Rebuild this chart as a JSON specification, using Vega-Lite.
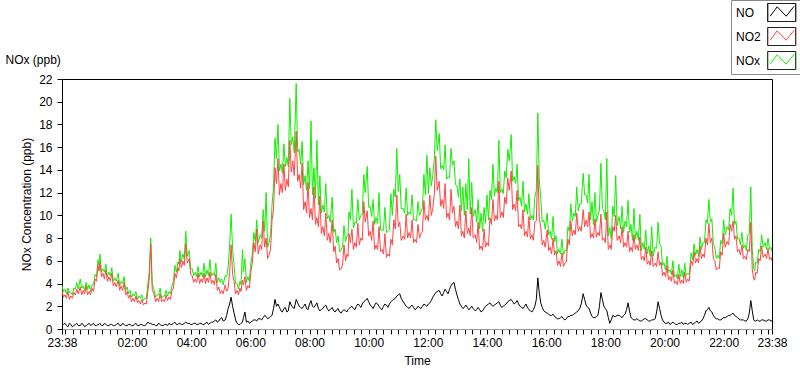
{
"$schema": "https://vega.github.io/schema/vega-lite/v6.json",
"width": 710,
"height": 250,
"autosize": "none",
"padding": {"left": 62, "top": 79, "right": 28, "bottom": 40},
"background": "white",
"datasets": {
"d": [
{"min":1418,"NO2":3.4,"NO":0.3,"NOx":3.8},{"min":1424,"NO2":3.0,"NO":0.5,"NOx":3.5},{"min":1430,"NO2":3.3,"NO":0.2,"NOx":3.6},{"min":1436,"NO2":2.9,"NO":0.4,"NOx":3.2},{"min":1442,"NO2":3.2,"NO":0.3,"NOx":3.6},{"min":1448,"NO2":3.5,"NO":0.5,"NOx":4.1},{"min":1455,"NO2":3.7,"NO":0.3,"NOx":4.4},{"min":1461,"NO2":3.4,"NO":0.4,"NOx":3.8},{"min":1467,"NO2":3.8,"NO":0.3,"NOx":4.1},{"min":1473,"NO2":3.3,"NO":0.5,"NOx":3.9},{"min":1479,"NO2":3.6,"NO":0.4,"NOx":3.9},{"min":1485,"NO2":4.4,"NO":0.3,"NOx":4.8},{"min":1491,"NO2":5.6,"NO":0.4,"NOx":6.1},{"min":1495,"NO2":5.9,"NO":0.5,"NOx":6.6},{"min":1501,"NO2":4.9,"NO":0.3,"NOx":5.3},{"min":1507,"NO2":5.2,"NO":0.4,"NOx":5.7},{"min":1513,"NO2":4.6,"NO":0.3,"NOx":5.0},{"min":1519,"NO2":4.9,"NO":0.4,"NOx":5.4},{"min":1525,"NO2":4.1,"NO":0.3,"NOx":4.5},{"min":1532,"NO2":4.3,"NO":0.5,"NOx":4.9},{"min":1538,"NO2":3.8,"NO":0.3,"NOx":4.2},{"min":1544,"NO2":4.1,"NO":0.4,"NOx":4.6},{"min":1550,"NO2":3.3,"NO":0.3,"NOx":3.7},{"min":1556,"NO2":3.0,"NO":0.4,"NOx":3.4},{"min":1562,"NO2":2.7,"NO":0.3,"NOx":3.1},{"min":1568,"NO2":2.9,"NO":0.5,"NOx":3.3},{"min":1574,"NO2":2.5,"NO":0.3,"NOx":2.9},{"min":1580,"NO2":2.6,"NO":0.4,"NOx":3.0},{"min":1586,"NO2":2.3,"NO":0.3,"NOx":2.7},{"min":1592,"NO2":3.2,"NO":0.6,"NOx":3.9},{"min":1598,"NO2":7.5,"NO":0.5,"NOx":8.0},{"min":1605,"NO2":3.0,"NO":0.4,"NOx":3.4},{"min":1611,"NO2":2.7,"NO":0.3,"NOx":3.0},{"min":1617,"NO2":3.1,"NO":0.4,"NOx":3.6},{"min":1623,"NO2":2.6,"NO":0.3,"NOx":2.9},{"min":1629,"NO2":3.0,"NO":0.4,"NOx":3.4},{"min":1635,"NO2":2.8,"NO":0.5,"NOx":3.3},{"min":1641,"NO2":3.4,"NO":0.4,"NOx":3.8},{"min":1647,"NO2":4.9,"NO":0.6,"NOx":5.6},{"min":1653,"NO2":5.4,"NO":0.4,"NOx":5.9},{"min":1657,"NO2":6.2,"NO":0.5,"NOx":6.9},{"min":1663,"NO2":6.0,"NO":0.4,"NOx":6.6},{"min":1669,"NO2":7.5,"NO":0.6,"NOx":8.6},{"min":1676,"NO2":6.2,"NO":0.5,"NOx":6.9},{"min":1682,"NO2":4.7,"NO":0.4,"NOx":5.3},{"min":1688,"NO2":4.4,"NO":0.5,"NOx":5.0},{"min":1694,"NO2":4.9,"NO":0.4,"NOx":5.5},{"min":1700,"NO2":4.4,"NO":0.5,"NOx":5.0},{"min":1706,"NO2":4.9,"NO":0.4,"NOx":5.8},{"min":1712,"NO2":4.5,"NO":0.6,"NOx":5.2},{"min":1718,"NO2":5.0,"NO":0.5,"NOx":6.1},{"min":1724,"NO2":4.3,"NO":0.6,"NOx":4.9},{"min":1730,"NO2":4.8,"NO":0.8,"NOx":5.8},{"min":1736,"NO2":3.7,"NO":0.7,"NOx":4.5},{"min":1742,"NO2":3.4,"NO":1.0,"NOx":4.4},{"min":1749,"NO2":3.9,"NO":0.8,"NOx":4.7},{"min":1755,"NO2":3.6,"NO":1.8,"NOx":5.5},{"min":1761,"NO2":7.4,"NO":2.8,"NOx":10.1},{"min":1767,"NO2":4.2,"NO":1.4,"NOx":5.6},{"min":1773,"NO2":3.4,"NO":0.5,"NOx":4.0},{"min":1779,"NO2":3.6,"NO":0.4,"NOx":4.2},{"min":1784,"NO2":4.3,"NO":0.6,"NOx":7.0},{"min":1789,"NO2":4.6,"NO":1.5,"NOx":6.2},{"min":1795,"NO2":3.8,"NO":0.7,"NOx":4.6},{"min":1801,"NO2":5.0,"NO":0.6,"NOx":5.8},{"min":1807,"NO2":7.6,"NO":0.8,"NOx":8.5},{"min":1813,"NO2":8.8,"NO":0.7,"NOx":9.6},{"min":1820,"NO2":7.4,"NO":0.9,"NOx":8.3},{"min":1826,"NO2":9.5,"NO":1.0,"NOx":10.5},{"min":1832,"NO2":8.0,"NO":1.1,"NOx":12.0},{"min":1838,"NO2":6.5,"NO":1.0,"NOx":7.6},{"min":1844,"NO2":9.6,"NO":1.2,"NOx":10.9},{"min":1850,"NO2":14.2,"NO":2.6,"NOx":16.8},{"min":1856,"NO2":15.0,"NO":2.2,"NOx":18.0},{"min":1862,"NO2":12.8,"NO":1.6,"NOx":14.5},{"min":1868,"NO2":14.5,"NO":1.8,"NOx":16.3},{"min":1874,"NO2":13.2,"NO":1.5,"NOx":15.1},{"min":1880,"NO2":16.6,"NO":2.4,"NOx":20.3},{"min":1886,"NO2":14.8,"NO":1.9,"NOx":16.9},{"min":1893,"NO2":17.4,"NO":2.6,"NOx":21.6},{"min":1899,"NO2":13.6,"NO":2.0,"NOx":15.8},{"min":1905,"NO2":14.6,"NO":1.8,"NOx":16.5},{"min":1911,"NO2":11.2,"NO":2.2,"NOx":13.5},{"min":1917,"NO2":12.9,"NO":1.7,"NOx":14.8},{"min":1923,"NO2":10.6,"NO":2.5,"NOx":18.3},{"min":1929,"NO2":12.5,"NO":1.9,"NOx":14.2},{"min":1935,"NO2":9.8,"NO":2.3,"NOx":16.6},{"min":1941,"NO2":11.7,"NO":1.6,"NOx":13.5},{"min":1947,"NO2":9.0,"NO":1.8,"NOx":10.9},{"min":1953,"NO2":10.2,"NO":2.1,"NOx":12.8},{"min":1959,"NO2":8.4,"NO":1.6,"NOx":10.0},{"min":1966,"NO2":9.6,"NO":1.9,"NOx":11.6},{"min":1972,"NO2":7.3,"NO":1.5,"NOx":8.8},{"min":1978,"NO2":6.2,"NO":1.8,"NOx":8.2},{"min":1984,"NO2":5.3,"NO":1.4,"NOx":6.9},{"min":1990,"NO2":7.4,"NO":1.7,"NOx":9.1},{"min":1996,"NO2":6.6,"NO":1.5,"NOx":8.2},{"min":2000,"NO2":8.4,"NO":1.8,"NOx":10.3},{"min":2006,"NO2":8.8,"NO":2.0,"NOx":12.3},{"min":2012,"NO2":7.6,"NO":1.7,"NOx":9.4},{"min":2018,"NO2":9.3,"NO":2.2,"NOx":11.4},{"min":2024,"NO2":8.0,"NO":1.9,"NOx":10.0},{"min":2030,"NO2":11.2,"NO":2.4,"NOx":13.6},{"min":2037,"NO2":10.4,"NO":2.7,"NOx":14.3},{"min":2043,"NO2":8.6,"NO":2.1,"NOx":10.8},{"min":2049,"NO2":9.5,"NO":1.8,"NOx":11.4},{"min":2055,"NO2":7.4,"NO":2.3,"NOx":9.8},{"min":2061,"NO2":9.0,"NO":2.0,"NOx":12.0},{"min":2067,"NO2":7.0,"NO":1.7,"NOx":8.7},{"min":2073,"NO2":8.4,"NO":2.2,"NOx":10.7},{"min":2079,"NO2":6.6,"NO":1.9,"NOx":8.6},{"min":2085,"NO2":7.9,"NO":2.4,"NOx":11.9},{"min":2091,"NO2":9.6,"NO":2.6,"NOx":12.3},{"min":2097,"NO2":11.8,"NO":2.9,"NOx":15.9},{"min":2103,"NO2":9.4,"NO":3.1,"NOx":13.6},{"min":2110,"NO2":8.2,"NO":2.4,"NOx":10.6},{"min":2116,"NO2":10.1,"NO":2.0,"NOx":12.4},{"min":2122,"NO2":8.5,"NO":1.8,"NOx":10.3},{"min":2128,"NO2":9.6,"NO":2.1,"NOx":11.8},{"min":2134,"NO2":7.9,"NO":1.7,"NOx":9.6},{"min":2140,"NO2":9.2,"NO":2.0,"NOx":11.2},{"min":2146,"NO2":8.4,"NO":1.8,"NOx":10.3},{"min":2152,"NO2":11.3,"NO":2.2,"NOx":13.6},{"min":2158,"NO2":10.0,"NO":2.0,"NOx":15.3},{"min":2164,"NO2":11.8,"NO":2.3,"NOx":14.2},{"min":2170,"NO2":10.6,"NO":2.8,"NOx":13.5},{"min":2176,"NO2":15.2,"NO":3.2,"NOx":18.4},{"min":2183,"NO2":13.0,"NO":3.4,"NOx":17.2},{"min":2189,"NO2":11.4,"NO":2.9,"NOx":14.4},{"min":2195,"NO2":12.8,"NO":3.5,"NOx":16.2},{"min":2201,"NO2":10.2,"NO":3.1,"NOx":13.4},{"min":2207,"NO2":12.3,"NO":3.8,"NOx":15.9},{"min":2213,"NO2":10.8,"NO":4.1,"NOx":14.8},{"min":2219,"NO2":9.5,"NO":3.0,"NOx":12.6},{"min":2225,"NO2":10.9,"NO":2.2,"NOx":13.2},{"min":2231,"NO2":8.6,"NO":1.8,"NOx":12.5},{"min":2237,"NO2":10.4,"NO":2.1,"NOx":12.8},{"min":2243,"NO2":8.9,"NO":1.7,"NOx":15.0},{"min":2249,"NO2":10.7,"NO":2.0,"NOx":12.9},{"min":2256,"NO2":8.3,"NO":1.6,"NOx":10.5},{"min":2262,"NO2":9.4,"NO":1.9,"NOx":11.4},{"min":2268,"NO2":7.3,"NO":1.5,"NOx":10.2},{"min":2274,"NO2":8.8,"NO":1.8,"NOx":10.7},{"min":2280,"NO2":7.6,"NO":2.1,"NOx":11.8},{"min":2286,"NO2":9.8,"NO":2.3,"NOx":12.2},{"min":2292,"NO2":11.4,"NO":2.0,"NOx":14.5},{"min":2298,"NO2":10.0,"NO":2.2,"NOx":12.4},{"min":2304,"NO2":13.0,"NO":2.4,"NOx":16.6},{"min":2310,"NO2":10.3,"NO":1.9,"NOx":12.3},{"min":2316,"NO2":11.6,"NO":2.1,"NOx":13.9},{"min":2322,"NO2":13.3,"NO":2.4,"NOx":15.8},{"min":2329,"NO2":13.9,"NO":2.6,"NOx":17.1},{"min":2335,"NO2":11.0,"NO":2.2,"NOx":13.4},{"min":2341,"NO2":12.2,"NO":2.5,"NOx":14.5},{"min":2347,"NO2":9.2,"NO":2.0,"NOx":11.6},{"min":2353,"NO2":10.5,"NO":1.8,"NOx":13.0},{"min":2359,"NO2":8.6,"NO":2.2,"NOx":11.0},{"min":2365,"NO2":9.9,"NO":1.7,"NOx":11.9},{"min":2371,"NO2":8.3,"NO":1.5,"NOx":10.0},{"min":2377,"NO2":9.4,"NO":2.0,"NOx":11.6},{"min":2383,"NO2":14.4,"NO":4.5,"NOx":19.0},{"min":2389,"NO2":8.9,"NO":2.3,"NOx":11.5},{"min":2395,"NO2":7.8,"NO":1.6,"NOx":9.6},{"min":2402,"NO2":8.7,"NO":1.4,"NOx":10.2},{"min":2408,"NO2":7.2,"NO":1.2,"NOx":8.6},{"min":2414,"NO2":8.0,"NO":1.3,"NOx":9.9},{"min":2420,"NO2":6.9,"NO":1.0,"NOx":8.2},{"min":2426,"NO2":6.0,"NO":0.9,"NOx":7.0},{"min":2432,"NO2":6.7,"NO":1.1,"NOx":7.9},{"min":2438,"NO2":5.8,"NO":0.8,"NOx":6.9},{"min":2444,"NO2":7.9,"NO":1.1,"NOx":9.0},{"min":2450,"NO2":9.5,"NO":1.2,"NOx":11.0},{"min":2456,"NO2":8.7,"NO":1.3,"NOx":10.2},{"min":2462,"NO2":10.2,"NO":1.5,"NOx":12.5},{"min":2468,"NO2":9.0,"NO":1.8,"NOx":11.0},{"min":2475,"NO2":10.5,"NO":3.1,"NOx":13.7},{"min":2481,"NO2":9.6,"NO":2.1,"NOx":11.8},{"min":2487,"NO2":10.3,"NO":1.8,"NOx":13.6},{"min":2493,"NO2":8.4,"NO":1.1,"NOx":11.2},{"min":2499,"NO2":9.7,"NO":1.0,"NOx":12.0},{"min":2505,"NO2":8.5,"NO":1.2,"NOx":10.0},{"min":2511,"NO2":10.1,"NO":3.2,"NOx":14.6},{"min":2517,"NO2":8.0,"NO":2.0,"NOx":10.4},{"min":2523,"NO2":10.3,"NO":1.6,"NOx":15.0},{"min":2529,"NO2":7.4,"NO":0.5,"NOx":8.9},{"min":2535,"NO2":9.0,"NO":1.2,"NOx":10.8},{"min":2541,"NO2":10.0,"NO":1.1,"NOx":13.5},{"min":2548,"NO2":8.2,"NO":1.2,"NOx":9.9},{"min":2554,"NO2":9.0,"NO":1.0,"NOx":10.8},{"min":2560,"NO2":7.6,"NO":1.3,"NOx":9.5},{"min":2566,"NO2":8.6,"NO":2.3,"NOx":11.3},{"min":2572,"NO2":7.2,"NO":1.0,"NOx":9.2},{"min":2578,"NO2":8.3,"NO":0.8,"NOx":10.6},{"min":2584,"NO2":7.4,"NO":0.9,"NOx":8.6},{"min":2590,"NO2":8.1,"NO":0.7,"NOx":10.1},{"min":2596,"NO2":6.4,"NO":0.8,"NOx":7.6},{"min":2602,"NO2":7.2,"NO":0.9,"NOx":8.7},{"min":2608,"NO2":6.0,"NO":0.7,"NOx":7.3},{"min":2614,"NO2":6.9,"NO":0.8,"NOx":9.0},{"min":2621,"NO2":5.8,"NO":0.9,"NOx":7.2},{"min":2627,"NO2":6.8,"NO":2.4,"NOx":9.4},{"min":2633,"NO2":5.9,"NO":1.2,"NOx":7.3},{"min":2639,"NO2":5.0,"NO":0.6,"NOx":5.8},{"min":2645,"NO2":5.6,"NO":0.5,"NOx":6.4},{"min":2651,"NO2":4.6,"NO":0.4,"NOx":5.2},{"min":2657,"NO2":5.2,"NO":0.6,"NOx":6.0},{"min":2663,"NO2":4.2,"NO":0.4,"NOx":4.8},{"min":2669,"NO2":4.8,"NO":0.5,"NOx":5.7},{"min":2675,"NO2":4.3,"NO":0.6,"NOx":5.2},{"min":2681,"NO2":5.0,"NO":0.5,"NOx":5.8},{"min":2687,"NO2":4.4,"NO":0.4,"NOx":4.9},{"min":2694,"NO2":6.0,"NO":0.6,"NOx":6.7},{"min":2700,"NO2":6.8,"NO":0.5,"NOx":7.5},{"min":2706,"NO2":6.2,"NO":0.7,"NOx":7.0},{"min":2712,"NO2":7.3,"NO":0.6,"NOx":8.1},{"min":2718,"NO2":6.6,"NO":0.9,"NOx":7.6},{"min":2724,"NO2":8.0,"NO":1.6,"NOx":9.6},{"min":2730,"NO2":9.3,"NO":1.9,"NOx":11.4},{"min":2736,"NO2":8.0,"NO":1.5,"NOx":9.7},{"min":2742,"NO2":6.0,"NO":1.0,"NOx":7.2},{"min":2748,"NO2":5.4,"NO":0.9,"NOx":6.5},{"min":2754,"NO2":6.8,"NO":0.8,"NOx":7.8},{"min":2760,"NO2":8.4,"NO":1.0,"NOx":9.6},{"min":2767,"NO2":7.7,"NO":1.1,"NOx":9.0},{"min":2773,"NO2":9.2,"NO":1.2,"NOx":10.6},{"min":2779,"NO2":9.5,"NO":1.4,"NOx":12.4},{"min":2785,"NO2":8.2,"NO":1.1,"NOx":9.5},{"min":2791,"NO2":7.0,"NO":0.9,"NOx":8.0},{"min":2797,"NO2":7.4,"NO":0.8,"NOx":8.5},{"min":2803,"NO2":6.4,"NO":0.7,"NOx":7.4},{"min":2809,"NO2":7.0,"NO":0.9,"NOx":8.3},{"min":2815,"NO2":9.4,"NO":2.5,"NOx":12.5},{"min":2821,"NO2":4.4,"NO":0.8,"NOx":5.3},{"min":2825,"NO2":5.0,"NO":0.7,"NOx":5.9},{"min":2831,"NO2":6.2,"NO":0.7,"NOx":7.0},{"min":2837,"NO2":7.3,"NO":0.8,"NOx":8.3},{"min":2844,"NO2":6.6,"NO":0.7,"NOx":7.6},{"min":2850,"NO2":7.1,"NO":0.8,"NOx":8.0},{"min":2856,"NO2":6.3,"NO":0.7,"NOx":7.2},{"min":2858,"NO2":6.0,"NO":0.7,"NOx":6.8},
{"min":1421,"NO2":2.8,"NO":0.4,"NOx":3.3},{"min":1427,"NO2":2.7,"NO":0.3,"NOx":3.1},{"min":1433,"NO2":2.6,"NO":0.5,"NOx":3.2},{"min":1439,"NO2":2.7,"NO":0.2,"NOx":3.0},{"min":1445,"NO2":3.0,"NO":0.4,"NOx":3.5},{"min":1451,"NO2":3.1,"NO":0.3,"NOx":3.5},{"min":1458,"NO2":3.0,"NO":0.5,"NOx":3.6},{"min":1464,"NO2":3.1,"NO":0.2,"NOx":3.4},{"min":1470,"NO2":3.0,"NO":0.4,"NOx":3.5},{"min":1476,"NO2":3.0,"NO":0.3,"NOx":3.3},{"min":1482,"NO2":3.3,"NO":0.5,"NOx":3.9},{"min":1488,"NO2":4.2,"NO":0.3,"NOx":4.6},{"min":1493,"NO2":5.1,"NO":0.4,"NOx":5.6},{"min":1498,"NO2":4.6,"NO":0.3,"NOx":5.0},{"min":1504,"NO2":4.4,"NO":0.5,"NOx":5.0},{"min":1510,"NO2":4.2,"NO":0.3,"NOx":4.6},{"min":1516,"NO2":4.2,"NO":0.4,"NOx":4.7},{"min":1522,"NO2":3.8,"NO":0.3,"NOx":4.2},{"min":1528,"NO2":3.7,"NO":0.4,"NOx":4.2},{"min":1535,"NO2":3.4,"NO":0.3,"NOx":3.8},{"min":1541,"NO2":3.4,"NO":0.5,"NOx":4.0},{"min":1547,"NO2":3.0,"NO":0.3,"NOx":3.4},{"min":1553,"NO2":2.7,"NO":0.4,"NOx":3.1},{"min":1559,"NO2":2.4,"NO":0.3,"NOx":2.8},{"min":1565,"NO2":2.4,"NO":0.4,"NOx":2.9},{"min":1571,"NO2":2.3,"NO":0.3,"NOx":2.6},{"min":1577,"NO2":2.2,"NO":0.4,"NOx":2.7},{"min":1583,"NO2":2.1,"NO":0.3,"NOx":2.5},{"min":1589,"NO2":2.2,"NO":0.4,"NOx":2.7},{"min":1595,"NO2":4.5,"NO":0.5,"NOx":5.0},{"min":1601,"NO2":3.5,"NO":0.4,"NOx":4.0},{"min":1608,"NO2":2.4,"NO":0.3,"NOx":2.8},{"min":1614,"NO2":2.4,"NO":0.5,"NOx":3.0},{"min":1620,"NO2":2.4,"NO":0.3,"NOx":2.7},{"min":1626,"NO2":2.4,"NO":0.4,"NOx":2.9},{"min":1632,"NO2":2.5,"NO":0.3,"NOx":2.9},{"min":1638,"NO2":2.6,"NO":0.4,"NOx":3.1},{"min":1644,"NO2":3.6,"NO":0.5,"NOx":4.2},{"min":1650,"NO2":4.5,"NO":0.4,"NOx":5.0},{"min":1655,"NO2":5.1,"NO":0.5,"NOx":5.7},{"min":1660,"NO2":5.4,"NO":0.4,"NOx":5.9},{"min":1666,"NO2":5.6,"NO":0.5,"NOx":6.2},{"min":1672,"NO2":5.8,"NO":0.5,"NOx":6.4},{"min":1679,"NO2":4.8,"NO":0.4,"NOx":5.3},{"min":1685,"NO2":4.1,"NO":0.5,"NOx":4.7},{"min":1691,"NO2":4.1,"NO":0.4,"NOx":4.6},{"min":1697,"NO2":4.0,"NO":0.5,"NOx":4.6},{"min":1703,"NO2":4.1,"NO":0.4,"NOx":4.6},{"min":1709,"NO2":4.0,"NO":0.5,"NOx":4.6},{"min":1715,"NO2":4.1,"NO":0.4,"NOx":4.7},{"min":1721,"NO2":4.0,"NO":0.6,"NOx":4.7},{"min":1727,"NO2":3.9,"NO":0.7,"NOx":4.7},{"min":1733,"NO2":3.4,"NO":0.6,"NOx":4.1},{"min":1739,"NO2":3.1,"NO":0.9,"NOx":4.1},{"min":1745,"NO2":3.1,"NO":0.7,"NOx":3.9},{"min":1752,"NO2":3.3,"NO":1.2,"NOx":4.6},{"min":1758,"NO2":5.0,"NO":2.2,"NOx":7.4},{"min":1764,"NO2":4.8,"NO":2.0,"NOx":7.0},{"min":1770,"NO2":3.1,"NO":0.8,"NOx":4.0},{"min":1776,"NO2":3.0,"NO":0.4,"NOx":3.5},{"min":1781,"NO2":3.3,"NO":0.5,"NOx":3.9},{"min":1786,"NO2":3.9,"NO":1.0,"NOx":5.0},{"min":1792,"NO2":3.4,"NO":0.6,"NOx":4.1},{"min":1798,"NO2":3.6,"NO":0.5,"NOx":4.2},{"min":1804,"NO2":5.8,"NO":0.7,"NOx":6.6},{"min":1810,"NO2":6.8,"NO":0.8,"NOx":7.7},{"min":1816,"NO2":6.6,"NO":0.9,"NOx":7.6},{"min":1823,"NO2":7.0,"NO":0.8,"NOx":8.0},{"min":1829,"NO2":7.2,"NO":1.2,"NOx":8.6},{"min":1835,"NO2":6.2,"NO":0.9,"NOx":7.2},{"min":1841,"NO2":7.0,"NO":1.1,"NOx":8.3},{"min":1847,"NO2":10.5,"NO":1.8,"NOx":12.5},{"min":1853,"NO2":12.8,"NO":2.0,"NOx":15.0},{"min":1859,"NO2":11.8,"NO":1.9,"NOx":13.9},{"min":1865,"NO2":12.0,"NO":1.5,"NOx":13.7},{"min":1871,"NO2":12.2,"NO":1.9,"NOx":14.3},{"min":1877,"NO2":12.5,"NO":1.6,"NOx":14.3},{"min":1883,"NO2":13.8,"NO":2.1,"NOx":16.2},{"min":1889,"NO2":13.5,"NO":1.8,"NOx":15.5},{"min":1896,"NO2":13.0,"NO":2.3,"NOx":15.6},{"min":1902,"NO2":12.4,"NO":1.9,"NOx":14.5},{"min":1908,"NO2":10.5,"NO":2.0,"NOx":12.7},{"min":1914,"NO2":10.2,"NO":1.8,"NOx":12.2},{"min":1920,"NO2":9.8,"NO":2.2,"NOx":12.3},{"min":1926,"NO2":9.6,"NO":2.0,"NOx":11.8},{"min":1932,"NO2":9.2,"NO":2.1,"NOx":11.5},{"min":1938,"NO2":9.0,"NO":1.8,"NOx":10.9},{"min":1944,"NO2":8.4,"NO":1.7,"NOx":10.2},{"min":1950,"NO2":8.2,"NO":2.0,"NOx":10.3},{"min":1956,"NO2":7.8,"NO":1.8,"NOx":9.7},{"min":1962,"NO2":7.6,"NO":1.7,"NOx":9.4},{"min":1969,"NO2":6.8,"NO":1.6,"NOx":8.5},{"min":1975,"NO2":5.8,"NO":1.7,"NOx":7.6},{"min":1981,"NO2":5.2,"NO":1.5,"NOx":6.8},{"min":1987,"NO2":5.6,"NO":1.6,"NOx":7.3},{"min":1993,"NO2":6.0,"NO":1.6,"NOx":7.7},{"min":1998,"NO2":6.4,"NO":1.7,"NOx":8.2},{"min":2003,"NO2":7.6,"NO":1.9,"NOx":9.6},{"min":2009,"NO2":7.0,"NO":1.8,"NOx":8.9},{"min":2015,"NO2":7.2,"NO":2.0,"NOx":9.3},{"min":2021,"NO2":7.4,"NO":2.1,"NOx":9.6},{"min":2027,"NO2":7.8,"NO":2.2,"NOx":10.1},{"min":2033,"NO2":9.4,"NO":2.5,"NOx":12.0},{"min":2040,"NO2":8.2,"NO":2.4,"NOx":10.7},{"min":2046,"NO2":7.8,"NO":2.0,"NOx":9.9},{"min":2052,"NO2":7.0,"NO":2.1,"NOx":9.2},{"min":2058,"NO2":7.0,"NO":2.2,"NOx":9.3},{"min":2064,"NO2":6.8,"NO":1.8,"NOx":8.7},{"min":2070,"NO2":6.6,"NO":2.0,"NOx":8.7},{"min":2076,"NO2":6.3,"NO":2.1,"NOx":8.5},{"min":2082,"NO2":6.4,"NO":2.2,"NOx":8.7},{"min":2088,"NO2":7.4,"NO":2.5,"NOx":10.0},{"min":2094,"NO2":8.8,"NO":2.7,"NOx":11.6},{"min":2100,"NO2":9.0,"NO":3.0,"NOx":12.1},{"min":2106,"NO2":7.8,"NO":2.7,"NOx":10.6},{"min":2113,"NO2":7.9,"NO":2.2,"NOx":10.2},{"min":2119,"NO2":8.0,"NO":1.9,"NOx":10.0},{"min":2125,"NO2":8.0,"NO":2.0,"NOx":10.1},{"min":2131,"NO2":7.6,"NO":1.9,"NOx":9.6},{"min":2137,"NO2":7.6,"NO":1.8,"NOx":9.5},{"min":2143,"NO2":8.0,"NO":1.9,"NOx":10.0},{"min":2149,"NO2":8.6,"NO":2.0,"NOx":10.7},{"min":2155,"NO2":9.6,"NO":2.1,"NOx":11.8},{"min":2161,"NO2":9.5,"NO":2.2,"NOx":11.9},{"min":2167,"NO2":10.0,"NO":2.5,"NOx":12.6},{"min":2173,"NO2":11.8,"NO":3.0,"NOx":14.9},{"min":2179,"NO2":12.2,"NO":3.3,"NOx":15.7},{"min":2186,"NO2":10.8,"NO":3.1,"NOx":14.1},{"min":2192,"NO2":10.6,"NO":3.2,"NOx":14.0},{"min":2198,"NO2":9.8,"NO":3.3,"NOx":13.2},{"min":2204,"NO2":9.6,"NO":3.5,"NOx":13.3},{"min":2210,"NO2":10.2,"NO":4.0,"NOx":14.4},{"min":2216,"NO2":9.0,"NO":3.5,"NOx":12.7},{"min":2222,"NO2":8.8,"NO":2.6,"NOx":11.6},{"min":2228,"NO2":8.2,"NO":2.0,"NOx":10.4},{"min":2234,"NO2":8.0,"NO":1.9,"NOx":10.0},{"min":2240,"NO2":8.4,"NO":1.9,"NOx":10.5},{"min":2246,"NO2":8.2,"NO":1.8,"NOx":10.1},{"min":2252,"NO2":8.0,"NO":1.8,"NOx":9.9},{"min":2259,"NO2":7.6,"NO":1.7,"NOx":9.4},{"min":2265,"NO2":7.0,"NO":1.7,"NOx":8.8},{"min":2271,"NO2":6.9,"NO":1.6,"NOx":8.6},{"min":2277,"NO2":7.2,"NO":2.0,"NOx":9.3},{"min":2283,"NO2":7.3,"NO":2.2,"NOx":9.6},{"min":2289,"NO2":9.2,"NO":2.1,"NOx":11.4},{"min":2295,"NO2":9.5,"NO":2.1,"NOx":11.7},{"min":2301,"NO2":9.6,"NO":2.3,"NOx":12.0},{"min":2307,"NO2":9.8,"NO":2.1,"NOx":12.0},{"min":2313,"NO2":9.8,"NO":2.0,"NOx":11.9},{"min":2319,"NO2":11.0,"NO":2.2,"NOx":13.3},{"min":2325,"NO2":12.2,"NO":2.5,"NOx":14.8},{"min":2332,"NO2":10.5,"NO":2.4,"NOx":13.0},{"min":2338,"NO2":10.4,"NO":2.3,"NOx":12.8},{"min":2344,"NO2":9.0,"NO":2.2,"NOx":11.3},{"min":2350,"NO2":8.8,"NO":1.9,"NOx":10.8},{"min":2356,"NO2":8.2,"NO":2.0,"NOx":10.3},{"min":2362,"NO2":8.1,"NO":1.9,"NOx":10.1},{"min":2368,"NO2":7.9,"NO":1.6,"NOx":9.6},{"min":2374,"NO2":7.8,"NO":1.7,"NOx":9.6},{"min":2380,"NO2":9.5,"NO":2.6,"NOx":12.2},{"min":2386,"NO2":9.8,"NO":3.2,"NOx":13.2},{"min":2392,"NO2":7.4,"NO":1.9,"NOx":9.4},{"min":2398,"NO2":7.2,"NO":1.5,"NOx":8.8},{"min":2405,"NO2":6.9,"NO":1.3,"NOx":8.3},{"min":2411,"NO2":6.6,"NO":1.2,"NOx":7.9},{"min":2417,"NO2":6.5,"NO":1.1,"NOx":7.7},{"min":2423,"NO2":5.6,"NO":0.9,"NOx":6.6},{"min":2429,"NO2":5.5,"NO":1.0,"NOx":6.6},{"min":2435,"NO2":5.5,"NO":0.9,"NOx":6.5},{"min":2441,"NO2":5.9,"NO":0.9,"NOx":6.9},{"min":2447,"NO2":7.4,"NO":1.1,"NOx":8.6},{"min":2453,"NO2":8.2,"NO":1.2,"NOx":9.5},{"min":2459,"NO2":8.3,"NO":1.4,"NOx":9.9},{"min":2465,"NO2":8.6,"NO":1.6,"NOx":10.4},{"min":2471,"NO2":8.6,"NO":2.2,"NOx":11.0},{"min":2478,"NO2":9.0,"NO":2.6,"NOx":11.8},{"min":2484,"NO2":9.0,"NO":1.9,"NOx":11.1},{"min":2490,"NO2":8.0,"NO":1.4,"NOx":9.6},{"min":2496,"NO2":8.0,"NO":1.0,"NOx":9.2},{"min":2502,"NO2":8.1,"NO":1.1,"NOx":9.4},{"min":2508,"NO2":8.2,"NO":2.0,"NOx":10.4},{"min":2514,"NO2":7.8,"NO":2.6,"NOx":10.6},{"min":2520,"NO2":7.6,"NO":1.8,"NOx":9.6},{"min":2526,"NO2":7.0,"NO":1.0,"NOx":8.2},{"min":2532,"NO2":7.0,"NO":0.8,"NOx":7.9},{"min":2538,"NO2":8.6,"NO":1.1,"NOx":9.9},{"min":2544,"NO2":7.8,"NO":1.2,"NOx":9.1},{"min":2551,"NO2":7.6,"NO":1.1,"NOx":8.8},{"min":2557,"NO2":7.2,"NO":1.2,"NOx":8.5},{"min":2563,"NO2":7.2,"NO":1.7,"NOx":9.0},{"min":2569,"NO2":6.8,"NO":1.6,"NOx":8.5},{"min":2575,"NO2":6.8,"NO":0.9,"NOx":7.8},{"min":2581,"NO2":7.0,"NO":0.8,"NOx":7.9},{"min":2587,"NO2":6.9,"NO":0.8,"NOx":7.8},{"min":2593,"NO2":6.1,"NO":0.7,"NOx":6.9},{"min":2599,"NO2":6.0,"NO":0.9,"NOx":7.0},{"min":2605,"NO2":5.7,"NO":0.8,"NOx":6.6},{"min":2611,"NO2":5.6,"NO":0.7,"NOx":6.4},{"min":2617,"NO2":5.5,"NO":0.8,"NOx":6.4},{"min":2624,"NO2":5.5,"NO":1.5,"NOx":7.1},{"min":2630,"NO2":5.6,"NO":1.8,"NOx":7.5},{"min":2636,"NO2":4.7,"NO":0.8,"NOx":5.6},{"min":2642,"NO2":4.6,"NO":0.5,"NOx":5.2},{"min":2648,"NO2":4.3,"NO":0.6,"NOx":5.0},{"min":2654,"NO2":4.2,"NO":0.5,"NOx":4.8},{"min":2660,"NO2":4.0,"NO":0.5,"NOx":4.6},{"min":2666,"NO2":3.9,"NO":0.4,"NOx":4.4},{"min":2672,"NO2":4.0,"NO":0.5,"NOx":4.6},{"min":2678,"NO2":4.0,"NO":0.4,"NOx":4.5},{"min":2684,"NO2":4.1,"NO":0.5,"NOx":4.7},{"min":2690,"NO2":4.2,"NO":0.5,"NOx":4.8},{"min":2697,"NO2":5.6,"NO":0.4,"NOx":6.1},{"min":2703,"NO2":5.8,"NO":0.6,"NOx":6.5},{"min":2709,"NO2":5.8,"NO":0.5,"NOx":6.4},{"min":2715,"NO2":6.2,"NO":0.7,"NOx":7.0},{"min":2721,"NO2":6.3,"NO":1.2,"NOx":7.6},{"min":2727,"NO2":7.4,"NO":1.7,"NOx":9.3},{"min":2733,"NO2":7.6,"NO":1.6,"NOx":9.4},{"min":2739,"NO2":6.2,"NO":1.2,"NOx":7.5},{"min":2745,"NO2":5.2,"NO":0.9,"NOx":6.2},{"min":2751,"NO2":5.3,"NO":0.8,"NOx":6.2},{"min":2757,"NO2":6.5,"NO":0.9,"NOx":7.5},{"min":2763,"NO2":7.2,"NO":1.0,"NOx":8.3},{"min":2770,"NO2":7.4,"NO":1.2,"NOx":8.7},{"min":2776,"NO2":8.6,"NO":1.3,"NOx":10.0},{"min":2782,"NO2":7.9,"NO":1.2,"NOx":9.2},{"min":2788,"NO2":6.8,"NO":1.0,"NOx":7.9},{"min":2794,"NO2":6.5,"NO":0.8,"NOx":7.4},{"min":2800,"NO2":6.2,"NO":0.8,"NOx":7.1},{"min":2806,"NO2":6.1,"NO":0.7,"NOx":6.9},{"min":2812,"NO2":6.8,"NO":1.4,"NOx":8.4},{"min":2818,"NO2":5.2,"NO":1.6,"NOx":7.0},{"min":2823,"NO2":4.3,"NO":0.7,"NOx":5.1},{"min":2828,"NO2":4.9,"NO":0.8,"NOx":5.8},{"min":2834,"NO2":6.0,"NO":0.7,"NOx":6.8},{"min":2840,"NO2":6.3,"NO":0.8,"NOx":7.2},{"min":2847,"NO2":6.2,"NO":0.7,"NOx":7.0},{"min":2853,"NO2":6.1,"NO":0.8,"NOx":7.0}
],
"labels": [{"label": "NOx"}, {"label": "NO2"}, {"label": "NO"}]
},
"data": {"name": "d"},
"layer": [
{
"mark": {"type": "line", "strokeWidth": 1, "clip": true},
"encoding": {
"x": {"field": "min", "type": "quantitative", "scale": {"domain": [1418, 2858], "nice": false, "zero": false},
"axis": {"orient": "bottom", "title": "Time", "values": [1418,1425,1440,1455,1470,1485,1500,1515,1530,1545,1560,1575,1590,1605,1620,1635,1650,1665,1680,1695,1710,1725,1740,1755,1770,1785,1800,1815,1830,1845,1860,1875,1890,1905,1920,1935,1950,1965,1980,1995,2010,2025,2040,2055,2070,2085,2100,2115,2130,2145,2160,2175,2190,2205,2220,2235,2250,2265,2280,2295,2310,2325,2340,2355,2370,2385,2400,2415,2430,2445,2460,2475,2490,2505,2520,2535,2550,2565,2580,2595,2610,2625,2640,2655,2670,2685,2700,2715,2730,2745,2760,2775,2790,2805,2820,2835,2850,2858],
"labelExpr": "datum.value == 1418 || datum.value == 2858 ? '23:38' : ((datum.value % 120 == 0 && datum.value != 1440) ? format(floor((datum.value % 1440) / 60), '02d') + ':00' : '')",
"labelOverlap": false, "labelFlush": false, "grid": false, "domainColor": "#999999", "tickColor": "#000", "tickSize": 5, "labelPadding": 3, "titlePadding": 7}},
"y": {"field": "NOx", "type": "quantitative", "scale": {"domain": [0, 22], "nice": false, "zero": true},
"axis": {"orient": "left", "title": "NOx Concentration (ppb)", "values": [0,2,4,6,8,10,12,14,16,18,20,22], "grid": false, "domainColor": "#000", "tickColor": "#000", "tickSize": 5, "labelPadding": 5, "titlePadding": 5, "labelFlush": false, "labelOverlap": false}},
"color": {"datum": "NOx", "type": "nominal",
"scale": {"domain": ["NO", "NO2", "NOx"], "range": ["#000000", "#ff4545", "#12ee00"]},
"legend": {"title": null, "orient": "none", "legendX": 669, "legendY": -79, "padding": 2, "strokeColor": "#8a8a8a", "fillColor": "white",
"symbolType": "M-1.4,-0.9H1.4V0.9H-1.4ZM-1.15,0.37L-0.45,-0.57L0.45,0.37L1.25,-0.63", "symbolSize": 400, "symbolStrokeWidth": 1,
"labelOffset": -56.2, "symbolOffset": 38.2, "rowPadding": 1, "labelFontSize": 12, "labelColor": "#000", "labelBaseline": "middle"}}
}
},
{
"mark": {"type": "line", "strokeWidth": 1, "clip": true},
"encoding": {
"x": {"field": "min", "type": "quantitative", "axis": {"orient": "top", "title": "NOx (ppb)", "titleAnchor": "start", "titleAlign": "left", "titleBaseline": "middle", "titleX": -57, "titleY": -20, "labels": false, "ticks": false, "grid": false, "domainColor": "#000"}},
"y": {"field": "NO2", "type": "quantitative", "axis": {"orient": "right", "title": null, "labels": false, "ticks": false, "grid": false, "domainColor": "#000"}},
"color": {"datum": "NO2", "type": "nominal"}
}
},
{
"mark": {"type": "line", "strokeWidth": 1, "clip": true},
"encoding": {
"x": {"field": "min", "type": "quantitative", "axis": null},
"y": {"field": "NO", "type": "quantitative", "axis": null},
"color": {"datum": "NO", "type": "nominal"}
}
},
{
"data": {"name": "labels"},
"mark": {"type": "point", "opacity": 0, "color": "#222"},
"encoding": {
"shape": {"field": "label", "type": "nominal",
"scale": {"domain": ["NOx", "NO2", "NO"], "range": ["M-1.4,-0.9H1.4V0.9H-1.4Z", "M-1.4,-0.9H1.4V0.9H-1.4Z", "M-1.4,-0.9H1.4V0.9H-1.4Z"]},
"legend": {"title": null, "orient": "none", "legendX": 669, "legendY": -79, "padding": 2,
"symbolSize": 400, "symbolStrokeWidth": 1, "symbolStrokeColor": "#222", "symbolFillColor": "transparent", "symbolOpacity": 1,
"labelOffset": -56.2, "symbolOffset": 38.2, "rowPadding": 1, "labelFontSize": 12, "labelExpr": "''", "labelColor": "transparent", "labelBaseline": "middle"}}
}
}
],
"resolve": {"axis": {"x": "independent", "y": "independent"}},
"config": {
"view": {"stroke": null},
"font": "Liberation Sans",
"axis": {"labelFontSize": 12, "titleFontSize": 12, "titleFontWeight": "normal", "labelColor": "#000", "titleColor": "#000"},
"legend": {"labelFont": "Liberation Sans"}
}
}
